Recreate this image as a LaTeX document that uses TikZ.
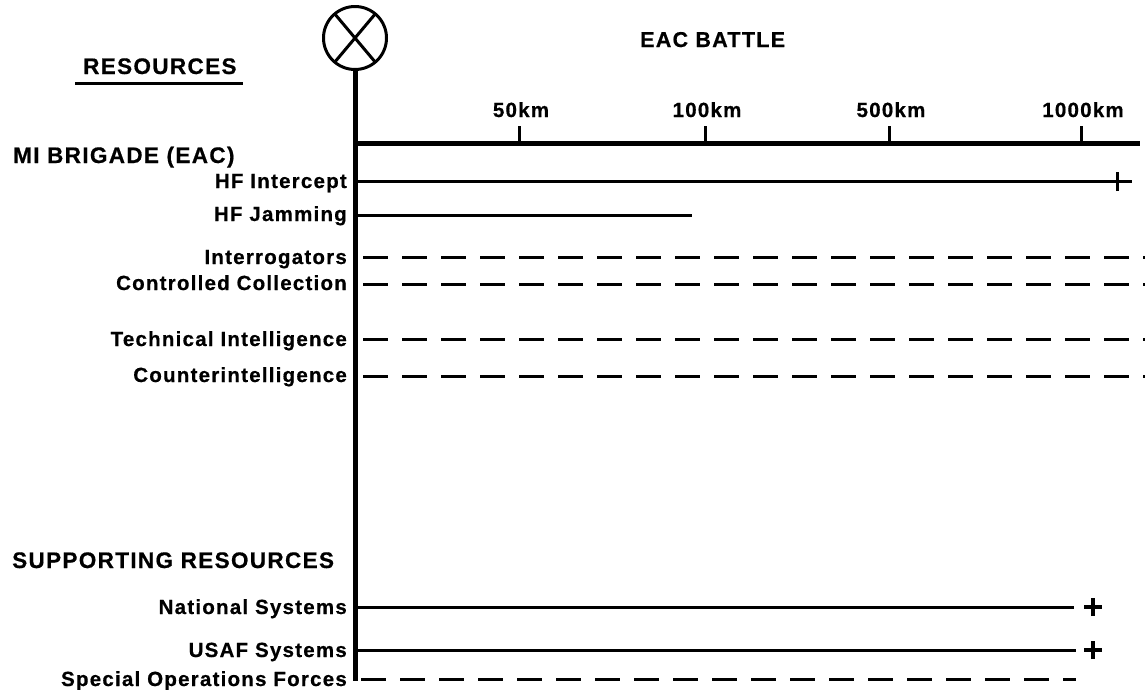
\documentclass[tikz,border=0pt]{standalone}
\usepackage{fontspec}
\setmainfont{Liberation Sans}[LetterSpace=6, BoldFeatures={FakeBold=0.6}]
\begin{document}
\begin{tikzpicture}[x=1pt,y=-1pt,
  lab/.style={font=\bfseries\fontsize{20.5}{23}\selectfont, inner sep=0pt},
  head/.style={font=\bfseries\fontsize{22.5}{25}\selectfont, inner sep=0pt},
  solidline/.style={line width=3pt},
  dashline/.style={line width=3pt, dash pattern=on 25pt off 14pt, dash phase=31pt},
  heavy/.style={line width=5pt},
  tickmark/.style={line width=3pt},
  plusmark/.style={line width=4pt}]
\useasboundingbox (0,0) rectangle (1145,689);
% circle with X
\node[draw, circle, line width=3pt, minimum size=63pt, inner sep=0pt, outer sep=0pt] (eye) at (355,38) {};
\draw[line width=3pt] (eye.130) -- (eye.-50) (eye.50) -- (eye.230);
% vertical bar
\coordinate (barbot) at (355,681);
\draw[heavy] (eye.south) -- (barbot);
% axis
\coordinate (ax0) at (355,143);
\coordinate (ax1) at (1140,143);
\draw[heavy] (ax0) -- (ax1);
\foreach \x/\t/\n in {519/50km/a, 705/100km/b, 889/500km/c, 1081/1000km/d}{
  \coordinate (tk\n) at (\x,143);
  \draw[tickmark] (tk\n) -- ++(0,-17);
  \node[lab, anchor=base] (lb\n) at (\x+2,117) {\t};
}
% headings
\node[head, anchor=base west, font=\bfseries\fontsize{21.5}{24}\selectfont] (eac) at (640,47) {EAC BATTLE};
\node[head, anchor=base west] (res) at (83,74) {RESOURCES};
\coordinate (ul0) at (75,83);
\coordinate (ul1) at (243,83);
\draw[line width=3pt] (ul0) -- (ul1);
\node[head, anchor=base west] (mib) at (13,163) {MI BRIGADE (EAC)};
\node[head, anchor=base west] (sup) at (12,568) {SUPPORTING RESOURCES};
% labels
\node[lab, anchor=base east] (hfi) at (347,188) {HF Intercept};
\node[lab, anchor=base east] (hfj) at (347,221) {HF Jamming};
\node[lab, anchor=base east] (int) at (347,264) {Interrogators};
\node[lab, anchor=base east] (cc) at (347,290) {Controlled Collection};
\node[lab, anchor=base east] (ti) at (347,346) {Technical Intelligence};
\node[lab, anchor=base east] (ci) at (347,382) {Counterintelligence};
\node[lab, anchor=base east] (ns) at (347,614) {National Systems};
\node[lab, anchor=base east] (us) at (347,657) {USAF Systems};
\node[lab, anchor=base east] (so) at (347,686) {Special Operations Forces};
% solid lines
\coordinate (hfi0) at (355,181); \coordinate (hfi1) at (1132,181);
\draw[solidline] (hfi0) -- (hfi1);
\coordinate (hfit) at (1117,181);
\draw[tickmark] ([yshift=-10pt]hfit) -- ([yshift=9pt]hfit);
\coordinate (hfj0) at (355,215); \coordinate (hfj1) at (692,215);
\draw[solidline] (hfj0) -- (hfj1);
% dashed lines
\foreach \y/\n in {257/int, 284/cc, 339/ti, 376/ci}{
  \coordinate (\n0) at (355,\y);
  \coordinate (\n1) at (1145,\y);
  \draw[dashline] (\n0) -- (\n1);
}
% supporting
\coordinate (ns0) at (355,607); \coordinate (ns1) at (1074,607);
\draw[solidline] (ns0) -- (ns1);
\coordinate (us0) at (355,650); \coordinate (us1) at (1076,650);
\draw[solidline] (us0) -- (us1);
\coordinate (so0) at (355,679); \coordinate (so1) at (1076,679);
\draw[line width=3pt, dash pattern=on 25pt off 14pt, dash phase=-6pt] (so0) -- (so1);
\foreach \y/\n in {607/p1, 650/p2}{
  \coordinate (\n) at (1093,\y);
  \draw[plusmark] ([xshift=-9pt]\n) -- ([xshift=9pt]\n) ([yshift=-9pt]\n) -- ([yshift=9pt]\n);
}
\end{tikzpicture}
\end{document}
